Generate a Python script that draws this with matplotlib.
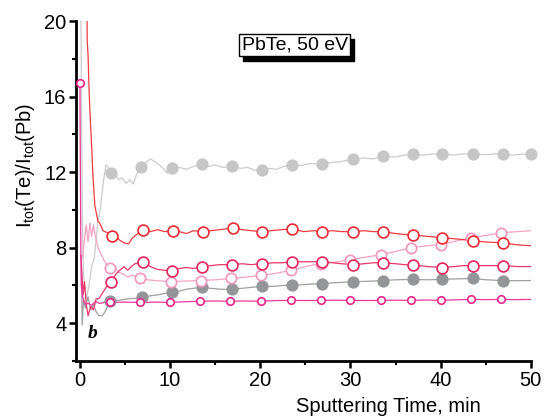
import matplotlib
matplotlib.use("Agg")
import matplotlib.pyplot as plt
import matplotlib.transforms as mtransforms
from matplotlib.ticker import MultipleLocator

plt.rcParams["font.family"] = ["Liberation Sans", "DejaVu Sans"]
plt.rcParams["mathtext.default"] = "regular"

# light gray, filled circles (top curve ~12-13)
gray_light_t = [0.1, 0.25, 0.4, 0.7, 1.0, 1.3, 1.6, 2.0, 2.3, 2.6, 2.9, 3.2, 3.4, 3.9, 4.3,
                4.7, 5.1, 5.5, 5.9, 6.3, 6.8, 7.3, 7.8, 8.5, 9.1, 9.7, 10.2, 11.0, 11.8, 12.6,
                13.5, 14.3, 15.0, 15.8, 16.9, 17.8, 18.6, 19.4, 20.2, 21.0, 21.8, 22.6, 23.5,
                24.5, 25.5, 26.8, 27.8, 28.8, 30.3, 31.5, 32.5, 33.6, 35.0, 36.0, 36.9, 38.0,
                39.0, 40.2, 41.5, 42.5, 43.6, 45.0, 46.0, 46.9, 48.0, 49.0, 50.0]
gray_light_v = [21.0, 10.0, 6.5, 5.3, 6.0, 7.0, 7.5, 9.4, 10.2, 11.5, 12.4, 12.2, 11.95, 11.9,
                11.6, 11.7, 11.4, 11.6, 11.37, 11.9, 12.26, 12.5, 12.7, 12.5, 12.26, 11.95, 12.2,
                12.25, 12.15, 12.3, 12.42, 12.3, 12.38, 12.25, 12.3, 12.2, 12.25, 12.1, 12.1,
                12.2, 12.15, 12.3, 12.37, 12.35, 12.45, 12.42, 12.5, 12.55, 12.68, 12.75, 12.7,
                12.84, 12.8, 12.9, 12.95, 12.9, 12.95, 12.95, 12.9, 12.97, 12.95, 12.92, 12.97,
                12.95, 12.9, 12.95, 12.95]
gray_light_mt = [3.4, 6.8, 10.2, 13.5, 16.9, 20.2, 23.5, 26.8, 30.3, 33.6, 36.9, 40.2, 43.6, 46.9, 50.0]
gray_light_mv = [11.95, 12.26, 12.2, 12.42, 12.3, 12.1, 12.37, 12.42, 12.68, 12.84, 12.95, 12.95,
                 12.95, 12.95, 12.95]

# dark gray, filled circles (~5-6.3)
gray_dark_t = [0.15, 0.25, 0.4, 0.6, 0.9, 1.2, 1.5, 1.8, 2.1, 2.5, 2.9, 3.3, 4.0, 4.8, 5.5, 6.2,
               6.9, 7.8, 8.6, 9.4, 10.2, 11.0, 11.8, 12.6, 13.5, 14.5, 15.5, 16.9, 18.0, 19.0,
               20.2, 21.5, 22.5, 23.5, 25.0, 26.8, 28.5, 30.3, 32.0, 33.6, 35.0, 36.9, 38.5,
               40.2, 42.0, 43.6, 45.0, 46.9, 48.5, 50.0]
gray_dark_v = [7.0, 3.9, 5.3, 4.8, 5.4, 4.7, 5.0, 4.6, 4.4, 4.4, 4.7, 5.16, 5.2, 5.25, 5.3, 5.32,
               5.37, 5.45, 5.5, 5.58, 5.63, 5.7, 5.8, 5.85, 5.9, 5.85, 5.8, 5.79, 5.85, 5.9, 5.95,
               5.95, 6.0, 6.0, 6.05, 6.1, 6.15, 6.2, 6.22, 6.26, 6.3, 6.32, 6.3, 6.32, 6.35,
               6.37, 6.3, 6.26, 6.25, 6.26]
gray_dark_mt = [3.3, 6.9, 10.2, 13.5, 16.9, 20.2, 23.5, 26.8, 30.3, 33.6, 36.9, 40.2, 43.6, 46.9]
gray_dark_mv = [5.16, 5.37, 5.63, 5.9, 5.79, 5.95, 6.0, 6.1, 6.2, 6.26, 6.32, 6.32, 6.37, 6.26]

# red, open circles (~8-9)
red_t = [0.78, 0.8, 0.9, 1.0, 1.1, 1.33, 1.44, 1.66, 2.0, 2.2, 2.55, 3.0, 3.5, 4.0, 4.4, 4.9,
         5.4, 5.8, 6.3, 7.0, 7.8, 8.6, 9.4, 10.3, 11.0, 11.8, 12.6, 13.6, 14.5, 15.5, 17.0,
         18.0, 19.0, 20.2, 21.2, 22.3, 23.5, 24.8, 26.0, 26.8, 28.0, 29.0, 30.3, 31.5, 32.5,
         33.6, 35.0, 36.0, 36.9, 38.5, 40.2, 42.0, 43.6, 45.0, 46.9, 48.5, 50.0]
red_v = [21.0, 19.0, 18.2, 16.5, 15.3, 13.05, 11.8, 10.2, 9.4, 9.3, 8.9, 8.8, 8.63, 8.6, 8.4,
         8.25, 8.2, 8.5, 8.7, 8.95, 8.85, 8.95, 8.85, 8.9, 8.85, 8.75, 8.9, 8.84, 8.9, 8.95,
         9.05, 8.95, 8.9, 8.84, 8.9, 8.95, 9.0, 8.85, 8.9, 8.84, 8.9, 8.85, 8.84, 8.9, 8.85,
         8.84, 8.75, 8.7, 8.68, 8.6, 8.53, 8.45, 8.37, 8.3, 8.26, 8.15, 8.1]
red_mt = [3.5, 7.0, 10.3, 13.6, 17.0, 20.2, 23.5, 26.8, 30.3, 33.6, 36.9, 40.2, 43.6, 46.9]
red_mv = [8.63, 8.95, 8.9, 8.84, 9.05, 8.84, 9.0, 8.84, 8.84, 8.84, 8.68, 8.53, 8.37, 8.26]

# crimson, open circles (~7)
crimson_t = [0.1, 0.2, 0.35, 0.5, 0.7, 0.9, 1.2, 1.5, 1.8, 2.1, 2.5, 2.9, 3.4, 4.0, 4.4, 4.9,
             5.3, 5.7, 6.1, 7.0, 7.8, 8.6, 9.4, 10.2, 11.0, 11.8, 12.6, 13.5, 14.5, 15.5, 16.9,
             18.0, 19.0, 20.2, 21.5, 22.5, 23.5, 25.0, 26.8, 28.0, 29.0, 30.3, 31.5, 32.5, 33.6,
             35.0, 36.0, 36.9, 38.5, 40.2, 41.5, 42.5, 43.6, 45.0, 46.9, 48.5, 50.0]
crimson_v = [7.6, 6.8, 5.5, 6.2, 5.0, 4.4, 4.9, 4.7, 5.3, 5.3, 5.6, 5.9, 6.2, 6.6, 6.8, 7.0,
             6.8, 7.0, 7.15, 7.26, 7.0, 6.85, 6.8, 6.79, 6.9, 6.95, 6.9, 7.0, 7.05, 7.1, 7.1,
             7.15, 7.1, 7.16, 7.2, 7.2, 7.26, 7.25, 7.26, 7.2, 7.15, 7.1, 7.15, 7.2, 7.2, 7.15,
             7.1, 7.1, 7.0, 6.95, 7.0, 7.05, 7.05, 7.05, 7.05, 7.0, 7.0]
crimson_mt = [3.4, 7.0, 10.2, 13.5, 16.9, 20.2, 23.5, 26.8, 30.3, 33.6, 36.9, 40.2, 43.6, 46.9]
crimson_mv = [6.2, 7.26, 6.79, 7.0, 7.1, 7.16, 7.26, 7.26, 7.1, 7.2, 7.1, 6.95, 7.05, 7.05]

# light pink, open circles (rising 6.2 -> 8.9)
pink_t = [0.3, 0.5, 0.7, 0.9, 1.1, 1.3, 1.5, 1.7, 2.0, 2.3, 2.7, 3.3, 3.8, 4.3, 4.8, 5.3, 5.8,
          6.7, 7.5, 8.5, 10.1, 11.5, 13.4, 15.0, 16.7, 18.5, 20.1, 21.8, 23.4, 25.0, 26.7,
          28.5, 30.0, 31.7, 33.4, 35.0, 36.7, 38.5, 40.0, 41.7, 43.4, 45.0, 46.7, 48.5, 50.0]
pink_v = [7.5, 8.4, 9.2, 8.3, 9.3, 8.6, 9.2, 8.6, 8.0, 7.7, 7.3, 6.9, 7.0, 6.7, 6.6, 6.45, 6.55,
          6.37, 6.3, 6.25, 6.2, 6.23, 6.26, 6.3, 6.37, 6.45, 6.53, 6.65, 6.8, 7.0, 7.16, 7.25,
          7.37, 7.5, 7.63, 7.8, 8.0, 8.1, 8.16, 8.35, 8.53, 8.65, 8.79, 8.85, 8.9]
pink_mt = [3.3, 6.7, 10.1, 13.4, 16.7, 20.1, 23.4, 26.7, 30.0, 33.4, 36.7, 40.0, 43.4, 46.7]
pink_mv = [6.9, 6.37, 6.2, 6.26, 6.37, 6.53, 6.8, 7.16, 7.37, 7.63, 8.0, 8.16, 8.53, 8.79]

# magenta, small open circles (~5.1)
magenta_t = [0.0, 0.05, 0.1, 0.15, 0.25, 0.4, 0.6, 0.9, 1.3, 1.7, 2.2, 2.7, 3.3, 5.0, 6.65,
             8.3, 10.0, 11.7, 13.3, 15.0, 16.6, 18.3, 20.1, 21.7, 23.4, 25.0, 26.7, 28.3,
             30.0, 31.7, 33.4, 35.0, 36.7, 38.3, 40.0, 41.7, 43.4, 45.0, 46.7, 48.3, 50.0]
magenta_v = [16.7, 12.0, 8.0, 6.0, 5.5, 5.2, 5.0, 5.05, 4.95, 5.15, 5.05, 5.1, 5.1, 5.12, 5.1,
             5.12, 5.1, 5.14, 5.16, 5.18, 5.16, 5.18, 5.16, 5.2, 5.21, 5.2, 5.21, 5.22, 5.21,
             5.2, 5.21, 5.22, 5.21, 5.23, 5.21, 5.24, 5.26, 5.25, 5.26, 5.25, 5.26]
magenta_mt = [0.0, 3.3, 6.65, 10.0, 13.3, 16.6, 20.1, 23.4, 26.7, 30.0, 33.4, 36.7, 40.0, 43.4, 46.7]
magenta_mv = [16.7, 5.1, 5.1, 5.1, 5.16, 5.16, 5.16, 5.21, 5.21, 5.21, 5.21, 5.21, 5.21, 5.26, 5.26]

fig = plt.figure(figsize=(5.45, 4.16), dpi=100)
ax = fig.add_axes([0.1394, 0.1322, 0.8346, 0.8173])

series = [
    (gray_light_t, gray_light_v, gray_light_mt, gray_light_mv, "#cccccc", "#c6c6c6", True, 7.6),
    (gray_dark_t, gray_dark_v, gray_dark_mt, gray_dark_mv, "#a0a0a2", "#939598", True, 7.6),
    (pink_t, pink_v, pink_mt, pink_mv, "#f5a3c3", "#f394bb", False, 7.4),
    (crimson_t, crimson_v, crimson_mt, crimson_mv, "#e8366a", "#e6245c", False, 7.8),
    (red_t, red_v, red_mt, red_mv, "#ef3b3f", "#ec2a30", False, 7.8),
    (magenta_t, magenta_v, magenta_mt, magenta_mv, "#ec3a98", "#e9248c", False, 5.4),
]

for i, (t, v, mt, mv, lc, mc, filled, ms) in enumerate(series):
    ax.plot(t, v, color=lc, lw=0.9, zorder=2 + i * 0.1, clip_on=True)
    ax.plot(mt, mv, ls="none", marker="o", ms=ms,
            mfc=mc if filled else "white", mec=mc, mew=1.2,
            zorder=3 + i * 0.1, clip_on=False)

ax.set_xlim(-0.44, 50)
ax.set_ylim(2, 20)
ax.xaxis.set_major_locator(MultipleLocator(10))
ax.xaxis.set_minor_locator(MultipleLocator(5))
ax.yaxis.set_major_locator(MultipleLocator(4))
ax.yaxis.set_minor_locator(MultipleLocator(2))
ax.set_yticks([4, 8, 12, 16, 20])

for side in ["top", "right"]:
    ax.spines[side].set_visible(False)
for side in ["left", "bottom"]:
    ax.spines[side].set_linewidth(2.0)

ax.tick_params(which="major", direction="out", length=5, width=1.8, labelsize=14.5, pad=2)
ax.tick_params(which="minor", direction="out", length=3, width=1.5)

ax.set_xlabel("Sputtering Time, min", fontsize=14.5)
ax.xaxis.set_label_coords(0.686, -0.105)
ax.set_ylabel("I$_{tot}$(Te)/I$_{tot}$(Pb)", fontsize=14.5)
ax.yaxis.set_label_coords(-0.085, 0.576)

# title box with drop shadow
shadow = mtransforms.offset_copy(ax.transData, fig=fig, x=4, y=-5, units="dots")
ax.text(23.8, 18.74, "PbTe, 50 eV", fontsize=14, ha="center", va="center", color="black",
        transform=shadow, zorder=5,
        bbox=dict(boxstyle="square,pad=0.12", fc="black", ec="black", lw=1))
ax.text(23.8, 18.74, "PbTe, 50 eV", fontsize=14, ha="center", va="center", color="black",
        zorder=6, bbox=dict(boxstyle="square,pad=0.12", fc="white", ec="black", lw=1))

ax.text(1.45, 3.45, "b", fontsize=14, fontweight="bold", fontstyle="italic",
        family="Liberation Serif", ha="center", va="center", zorder=7)

fig.savefig("out.png", dpi=100)
